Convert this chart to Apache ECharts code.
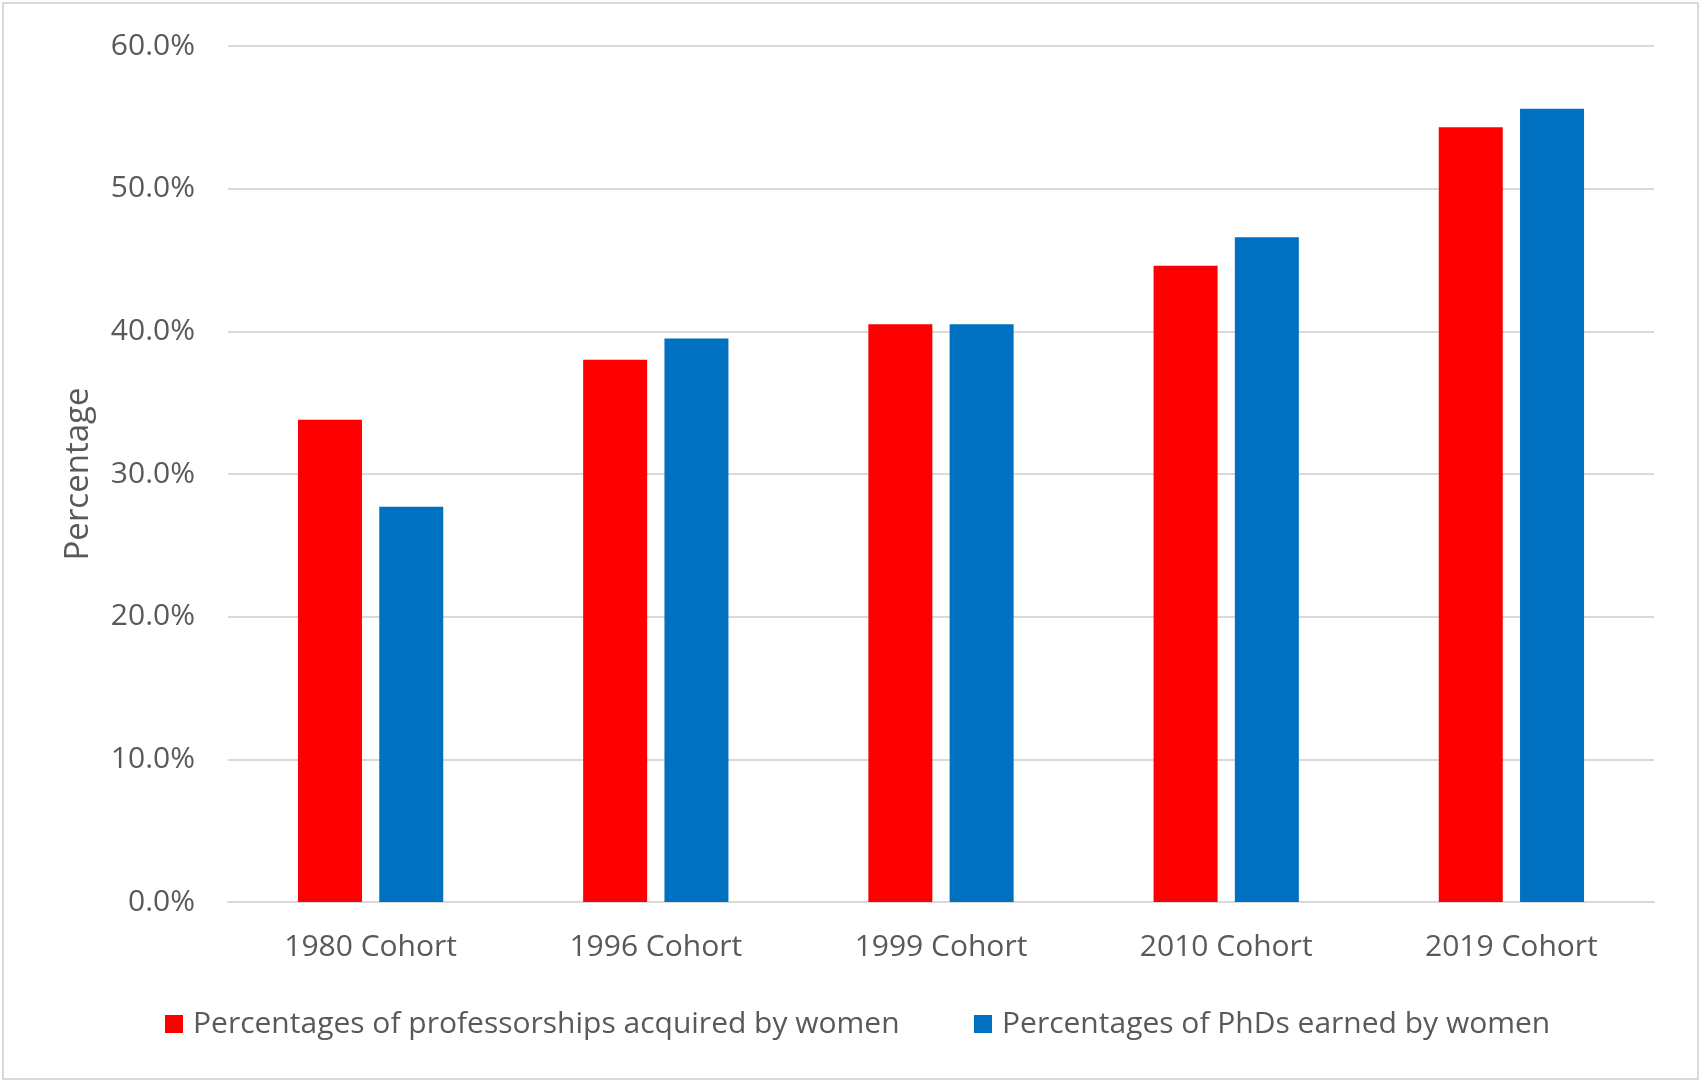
<!DOCTYPE html>
<html>
<head>
<meta charset="utf-8">
<script src="https://cdn.jsdelivr.net/npm/echarts@6/dist/echarts.min.js"></script>
<style>
  html, body { margin: 0; padding: 0; background: #fff; }
  #chart { width: 1701px; height: 1083px; }
</style>
</head>
<body>
<div id="chart"></div>
<script>
const categories = ['1980 Cohort', '1996 Cohort', '1999 Cohort', '2010 Cohort', '2019 Cohort']
const professorships = [33.8, 38.0, 40.5, 44.6, 54.3]
const phds = [27.7, 39.5, 40.5, 46.6, 55.6]
const seriesNames = ['Percentages of professorships acquired by women', 'Percentages of PhDs earned by women']

const FONT = '"Open Sans", "Noto Sans", sans-serif'
const TEXT = '#595959'
const GRID_LINE = '#d9d9d9'

const chart = echarts.init(document.getElementById('chart'))

const legendText = { color: TEXT, fontSize: 30, fontFamily: FONT, padding: [0, 0, 0, 5] }

chart.setOption({
  animation: false,
  graphic: [{
    type: 'rect',
    shape: { x: 3, y: 3, width: 1695, height: 1076 },
    style: { fill: 'none', stroke: '#d9d9d9', lineWidth: 2 },
    silent: true
  }],
  legend: [
    {
      data: [seriesNames[0]],
      left: 160, top: 1004,
      icon: 'rect', itemWidth: 18, itemHeight: 18,
      textStyle: legendText
    },
    {
      data: [seriesNames[1]],
      left: 969, top: 1004,
      icon: 'rect', itemWidth: 18, itemHeight: 18,
      textStyle: legendText
    }
  ],
  grid: { left: 228, right: 47, top: 46, bottom: 181, containLabel: false },
  xAxis: {
    type: 'category',
    data: categories,
    axisLine: { lineStyle: { color: GRID_LINE, width: 2 } },
    axisTick: { show: false },
    axisLabel: { color: TEXT, fontSize: 30, fontFamily: FONT, margin: 30 }
  },
  yAxis: {
    type: 'value',
    min: 0, max: 60, interval: 10,
    name: 'Percentage',
    nameLocation: 'middle',
    nameRotate: 90,
    nameGap: 133,
    nameTextStyle: { color: TEXT, fontSize: 33, fontFamily: FONT },
    axisLine: { show: false },
    axisTick: { show: false },
    splitLine: { lineStyle: { color: GRID_LINE, width: 2 } },
    axisLabel: {
      color: TEXT, fontSize: 30, fontFamily: FONT, margin: 33,
      formatter: v => v.toFixed(1) + '%'
    }
  },
  series: [
    {
      name: seriesNames[0],
      type: 'bar',
      data: professorships,
      barWidth: 64,
      barGap: '27%',
      itemStyle: { color: '#ff0000' }
    },
    {
      name: seriesNames[1],
      type: 'bar',
      data: phds,
      barWidth: 64,
      itemStyle: { color: '#0070c0' }
    }
  ]
})
</script>
</body>
</html>
